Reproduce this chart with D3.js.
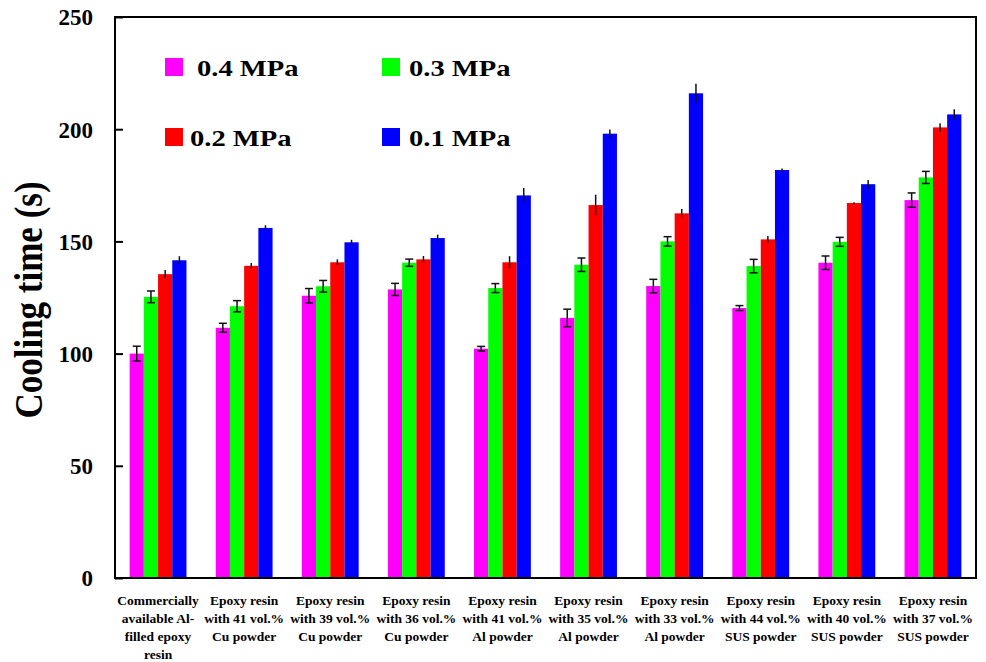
<!DOCTYPE html>
<html>
<head>
<meta charset="utf-8">
<script src="https://cdn.jsdelivr.net/npm/d3@7"></script>
<style>
  html, body { margin: 0; padding: 0; background: #fff; }
  svg { display: block; }
  text { font-family: "Liberation Serif", "Times New Roman", serif; font-weight: bold; fill: #000; }
</style>
</head>
<body>
<svg id="chart" width="986" height="662"></svg>
<script>
// Sample groups (multi-line labels)
const categories = [
  ["Commercially", "available Al-", "filled epoxy", "resin"],
  ["Epoxy resin", "with 41 vol.%", "Cu powder"],
  ["Epoxy resin", "with 39 vol.%", "Cu powder"],
  ["Epoxy resin", "with 36 vol.%", "Cu powder"],
  ["Epoxy resin", "with 41 vol.%", "Al powder"],
  ["Epoxy resin", "with 35 vol.%", "Al powder"],
  ["Epoxy resin", "with 33 vol.%", "Al powder"],
  ["Epoxy resin", "with 44 vol.%", "SUS powder"],
  ["Epoxy resin", "with 40 vol.%", "SUS powder"],
  ["Epoxy resin", "with 37 vol.%", "SUS powder"]
];

const seriesNames = ["0.4 MPa", "0.3 MPa", "0.2 MPa", "0.1 MPa"];
const seriesColors = ["#ff00ff", "#00ff00", "#ff0000", "#0000ff"];

// Cooling time (s) for each pressure
const mpa04 = [100, 111.5, 125.8, 128.6, 102.2, 115.9, 130.1, 120.3, 140.5, 168.4];
const mpa03 = [125.3, 121.1, 130.0, 140.5, 129.2, 139.6, 150.0, 139.0, 149.8, 178.5];
const mpa02 = [135.4, 139.1, 140.7, 142.0, 140.7, 166.2, 162.5, 150.9, 167.1, 200.8];
const mpa01 = [141.6, 156.0, 149.6, 151.5, 170.5, 198.0, 216.0, 181.8, 175.5, 206.6];

// Error bar half-widths (s)
const err04 = [3.3, 2.0, 3.2, 2.7, 1.0, 3.9, 3.0, 1.1, 3.0, 3.2];
const err03 = [2.6, 2.5, 2.6, 1.6, 2.0, 3.0, 2.1, 3.0, 2.0, 2.7];
const err02 = [1.8, 1.3, 1.3, 1.5, 2.7, 4.6, 1.9, 1.5, 0.3, 1.9];
const err01 = [1.8, 1.2, 1.1, 1.5, 3.3, 1.9, 4.2, 0.7, 1.9, 2.3];

const yTicks = [0, 50, 100, 150, 200, 250];

const values = [mpa04, mpa03, mpa02, mpa01];
const errors = [err04, err03, err02, err01];

const svg = d3.select("#chart");
const margin = { left: 115, right: 10, top: 17, bottom: 84 };
const W = 986, H = 662;
const plotW = W - margin.left - margin.right;
const plotH = H - margin.top - margin.bottom;

const g = svg.append("g").attr("transform", `translate(${margin.left},${margin.top})`);

const x0 = d3.scaleBand().domain(d3.range(categories.length)).range([0, plotW]).paddingInner(0.34).paddingOuter(0.17);
const x1 = d3.scaleBand().domain(d3.range(seriesNames.length)).range([0, x0.bandwidth()]).padding(0);
const y = d3.scaleLinear().domain([0, 250]).range([plotH, 0]);

// Bars
const groups = g.selectAll("g.grp").data(categories).join("g")
  .attr("class", "grp")
  .attr("transform", (d, i) => `translate(${x0(i)},0)`);

groups.each(function(_, ci) {
  const sel = d3.select(this);
  seriesNames.forEach((s, si) => {
    const v = values[si][ci];
    sel.append("rect")
      .attr("x", x1(si))
      .attr("y", y(v))
      .attr("width", x1.bandwidth())
      .attr("height", y(0) - y(v))
      .attr("fill", seriesColors[si]);
  });
});

// Error bars (capped for the two higher pressures)
groups.each(function(_, ci) {
  const sel = d3.select(this);
  seriesNames.forEach((s, si) => {
    const v = values[si][ci], e = errors[si][ci];
    const cx = x1(si) + x1.bandwidth() / 2;
    sel.append("line")
      .attr("x1", cx).attr("x2", cx)
      .attr("y1", y(v + e)).attr("y2", y(v - e))
      .attr("stroke", "#111").attr("stroke-width", 1.5);
    if (si < 2) {
      [v + e, v - e].forEach(t => {
        sel.append("line")
          .attr("x1", cx - 4).attr("x2", cx + 4)
          .attr("y1", y(t)).attr("y2", y(t))
          .attr("stroke", "#111").attr("stroke-width", 1.5);
      });
    }
  });
});

// Frame
g.append("rect")
  .attr("x", 0).attr("y", 0).attr("width", plotW).attr("height", plotH)
  .attr("fill", "none").attr("stroke", "#000").attr("stroke-width", 2);

// Y axis with inward ticks
const yAxis = d3.axisLeft(y).tickValues(yTicks).tickSize(-8).tickPadding(22).tickFormat(d3.format("d"));
const ya = g.append("g").call(yAxis);
ya.select(".domain").remove();
ya.selectAll(".tick line").attr("stroke", "#000").attr("stroke-width", 2);
ya.selectAll(".tick text")
  .style("font-size", "23px")
  .style("font-family", "'Liberation Serif', serif")
  .style("font-weight", "bold")
  .attr("fill", "#000")
  .attr("dy", "0.34em");

// Y title
svg.append("text")
  .attr("transform", `translate(42,300) rotate(-90) scale(1,1.12)`)
  .attr("text-anchor", "middle")
  .style("font-size", "35px")
  .text("Cooling time (s)");

// Category labels
const labelG = svg.append("g");
categories.forEach((lines, ci) => {
  const cx = margin.left + x0(ci) + x0.bandwidth() / 2;
  const t = labelG.append("text")
    .attr("text-anchor", "middle")
    .style("font-size", "13.5px");
  lines.forEach((ln, li) => {
    t.append("tspan").attr("x", cx).attr("y", 605 + li * 18).text(ln);
  });
});

// Legend
const legendPos = [
  { sx: 165, sy: 58, tx: 197 },
  { sx: 382, sy: 58, tx: 409 },
  { sx: 165, sy: 128, tx: 190 },
  { sx: 382, sy: 128, tx: 409 }
];
seriesNames.forEach((s, si) => {
  const p = legendPos[si];
  svg.append("rect").attr("x", p.sx).attr("y", p.sy).attr("width", 18).attr("height", 18).attr("fill", seriesColors[si]);
  svg.append("text")
    .attr("transform", `translate(${p.tx},${p.sy + 18}) scale(1.19,1)`)
    .style("font-size", "24px")
    .text(s);
});
</script>
</body>
</html>
